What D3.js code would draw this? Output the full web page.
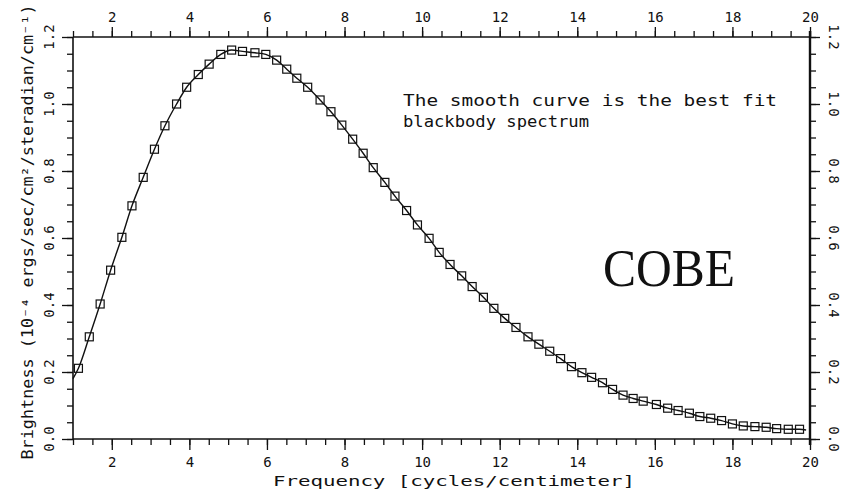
<html>
<script src="https://d3js.org/d3.v7.min.js"></script>
<style>
  body { margin: 0; background: #fff; }
  text { font-family: "DejaVu Sans Mono", monospace; fill: #111; }
  .cobe { font-family: "Liberation Serif", serif; }
</style>
<body>
<svg width=848 height=490></svg>
<script>

// measured FIRAS points (frequency in cycles/cm, brightness)
var freq = [1.14,1.42,1.70,1.97,2.26,2.52,2.81,3.10,3.37,3.67,
            3.93,4.23,4.51,4.81,5.09,5.37,5.69,5.97,6.25,6.51,6.77,7.05,7.37,7.65,7.93,
            8.21,8.48,8.74,9.04,9.30,9.60,9.88,10.18,10.44,10.72,11.02,11.29,11.58,11.85,12.13,12.42,12.73,
            13.01,13.29,13.57,13.85,14.12,
            14.37,14.65,14.91,15.18,15.44,15.70,16.04,16.33,16.60,16.89,17.16,17.44,17.72,18.00,18.28,18.58,18.87,19.14,19.44,19.73];
var bright = [0.211,0.305,0.403,0.504,0.602,0.696,0.781,0.865,0.935,1.000,
              1.050,1.088,1.119,1.148,1.161,1.157,1.153,1.148,1.131,1.104,1.077,1.050,1.012,0.977,0.937,
              0.895,0.853,0.810,0.766,0.725,0.682,0.639,0.599,0.557,0.521,0.487,0.455,0.423,0.390,0.360,0.333,0.305,
              0.283,0.262,0.240,0.216,0.198,
              0.184,0.168,0.148,0.131,0.121,0.113,0.103,0.092,0.085,0.077,0.067,0.062,0.055,0.045,0.039,0.037,0.035,0.031,0.029,0.029];

// where the fitted curve meets the frame
var fitEndFreq = [1.0, 19.9];
var fitEndVal = [0.18, 0.027];

var xTicks = [2,4,6,8,10,12,14,16,18,20];
var yTicks = [0,0.2,0.4,0.6,0.8,1.0,1.2];

var svg = d3.select('svg');
var pl = 73, pr = 810, pt = 37, pb = 439;

var x = d3.scaleLinear().domain([1, 20]).range([pl, pr]);
var y = d3.scaleLinear().domain([0, 1.2]).range([pb, pt]);

var xMinor = d3.range(1, 20.01, 0.5);
var yMinor = d3.range(0, 1.201, 0.05);

function clean(g) {
  g.select('.domain').remove();
  g.selectAll('line').attr('stroke', '#111').attr('stroke-width', 1.3);
}

// bottom axis
svg.append('g').attr('transform', 'translate(0,' + pb + ')')
  .call(d3.axisBottom(x).tickValues(xMinor).tickSize(6).tickFormat(''))
  .call(clean);
svg.append('g').attr('transform', 'translate(0,' + pb + ')')
  .call(d3.axisBottom(x).tickValues(xTicks).tickSize(11).tickPadding(7))
  .call(clean)
  .selectAll('text').style('font-size', '14px');

// top axis
svg.append('g').attr('transform', 'translate(0,' + pt + ')')
  .call(d3.axisTop(x).tickValues(xMinor).tickSize(6).tickFormat(''))
  .call(clean);
svg.append('g').attr('transform', 'translate(0,' + pt + ')')
  .call(d3.axisTop(x).tickValues(xTicks).tickSize(10).tickPadding(5))
  .call(clean)
  .selectAll('text').style('font-size', '14px');

// left axis
svg.append('g').attr('transform', 'translate(' + pl + ',0)')
  .call(d3.axisLeft(y).tickValues(yMinor).tickSize(6).tickFormat(''))
  .call(clean);
svg.append('g').attr('transform', 'translate(' + pl + ',0)')
  .call(d3.axisLeft(y).tickValues(yTicks).tickSize(11).tickFormat(''))
  .call(clean);

// right axis
svg.append('g').attr('transform', 'translate(' + pr + ',0)')
  .call(d3.axisRight(y).tickValues(yMinor).tickSize(6).tickFormat(''))
  .call(clean);
svg.append('g').attr('transform', 'translate(' + pr + ',0)')
  .call(d3.axisRight(y).tickValues(yTicks).tickSize(10).tickFormat(''))
  .call(clean);

// frame
svg.append('line').attr('x1', pl).attr('x2', pr).attr('y1', pb).attr('y2', pb)
  .attr('stroke', '#111').attr('stroke-width', 1.6);
svg.append('line').attr('x1', pl).attr('x2', pr).attr('y1', pt).attr('y2', pt)
  .attr('stroke', '#111').attr('stroke-width', 1.6);
svg.append('line').attr('x1', pl).attr('x2', pl).attr('y1', pt).attr('y2', pb)
  .attr('stroke', '#111').attr('stroke-width', 1.6);
svg.append('line').attr('x1', pr).attr('x2', pr).attr('y1', pt - 6).attr('y2', pb + 6)
  .attr('stroke', '#111').attr('stroke-width', 2.4);

// rotated y tick labels
var fmt = d3.format('.1f');
svg.append('g').selectAll('text').data(yTicks).enter().append('text')
  .attr('transform', function(d) { return 'translate(49,' + y(d) + ') rotate(-90)'; })
  .attr('text-anchor', 'middle').attr('dy', '0.35em')
  .style('font-size', '14px')
  .text(fmt);
svg.append('g').selectAll('text').data(yTicks).enter().append('text')
  .attr('transform', function(d) { return 'translate(834,' + y(d) + ') rotate(90)'; })
  .attr('text-anchor', 'middle').attr('dy', '0.35em')
  .style('font-size', '14px')
  .text(fmt);

// axis titles
svg.append('text')
  .attr('transform', 'translate(33,232) rotate(-90)')
  .attr('text-anchor', 'middle')
  .attr('textLength', 455).attr('lengthAdjust', 'spacingAndGlyphs')
  .style('font-size', '15px')
  .text('Brightness (10\u207B\u2074 ergs/sec/cm\u00B2/steradian/cm\u207B\u00B9)');

svg.append('text')
  .attr('x', 454).attr('y', 486)
  .attr('text-anchor', 'middle')
  .attr('textLength', 362).attr('lengthAdjust', 'spacingAndGlyphs')
  .style('font-size', '14px')
  .text('Frequency [cycles/centimeter]');

// note
svg.append('text').attr('x', 403).attr('y', 106)
  .attr('textLength', 374).attr('lengthAdjust', 'spacingAndGlyphs')
  .style('font-size', '16px')
  .text('The smooth curve is the best fit');
svg.append('text').attr('x', 403).attr('y', 127)
  .attr('textLength', 186).attr('lengthAdjust', 'spacingAndGlyphs')
  .style('font-size', '16px')
  .text('blackbody spectrum');

svg.append('text').attr('class', 'cobe')
  .attr('x', 603).attr('y', 286)
  .attr('textLength', 132).attr('lengthAdjust', 'spacingAndGlyphs')
  .style('font-size', '52px')
  .text('COBE');

// fitted curve through the points
var pts = freq.map(function(f, i) { return [f, bright[i]]; });
var curvePts = [[fitEndFreq[0], fitEndVal[0]]].concat(pts, [[fitEndFreq[1], fitEndVal[1]]]);

svg.append('path')
  .datum(curvePts)
  .attr('fill', 'none').attr('stroke', '#111').attr('stroke-width', 1.4)
  .attr('d', d3.line()
    .x(function(d) { return x(d[0]); })
    .y(function(d) { return y(d[1]); })
    .curve(d3.curveMonotoneX));

svg.append('g').selectAll('rect').data(pts).enter().append('rect')
  .attr('x', function(d) { return x(d[0]) - 4; })
  .attr('y', function(d) { return y(d[1]) - 4; })
  .attr('width', 8).attr('height', 8)
  .attr('fill', 'none').attr('stroke', '#111').attr('stroke-width', 1.2);

</script>
</body>
</html>
